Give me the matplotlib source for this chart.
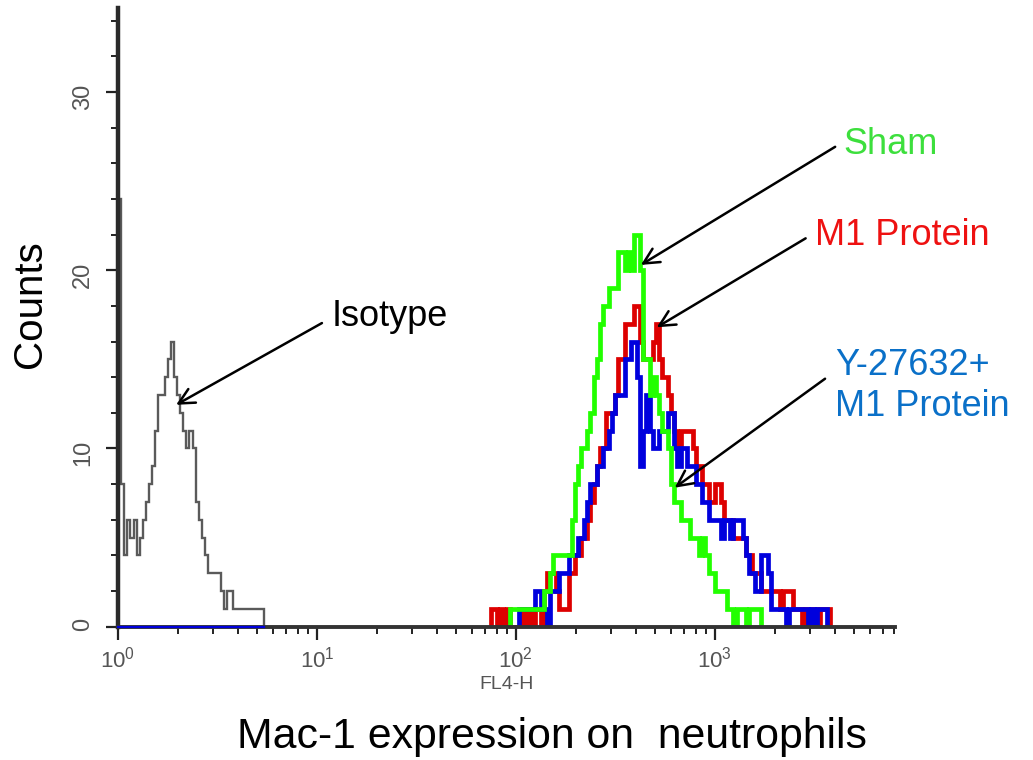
import numpy as np
import matplotlib
matplotlib.use('Agg')
import matplotlib.pyplot as plt
from matplotlib.ticker import MultipleLocator

plt.rcParams['font.family'] = ['Liberation Sans', 'DejaVu Sans']

# FL4-H histograms: 256 log channels over four decades, counts per channel
n_channels = 256
edges = 10 ** (np.arange(n_channels + 1) * 4 / n_channels)

iso_start = 0
iso_counts = [24, 8, 4, 6, 5, 6, 4, 5, 6, 7, 8, 9, 11, 13, 13, 14, 15, 16, 14, 13,
              12, 11, 10, 11, 10, 7, 6, 5, 4, 3, 3, 3, 3, 2, 1, 2, 2, 1, 1, 1,
              1, 1, 1, 1, 1, 1, 1]

sham_start = 126
sham_counts = [1, 1, 1, 1, 1, 1, 1, 1, 1, 1, 1, 2, 2, 3, 4, 4, 4, 4, 4, 4,
               6, 8, 9, 10, 10, 11, 12, 14, 15, 17, 18, 18, 19, 19, 19, 21, 21, 20, 21, 20,
               22, 22, 20, 15, 15, 13, 14, 13, 12, 11, 11, 10, 8, 7, 7, 6, 6, 6, 5, 5,
               5, 4, 5, 4, 3, 3, 2, 2, 2, 2, 1, 1, 0, 1, 1, 1, 0, 1, 1, 1, 1]

m1_start = 120
m1_counts = [1, 1, 0, 1, 0, 1, 0, 0, 0, 0, 1, 0, 1, 0, 1, 1, 0, 2, 3, 3,
             3, 2, 1, 1, 1, 3, 3, 4, 4, 5, 5, 6, 7, 8, 9, 10, 10, 12, 12, 12,
             13, 15, 15, 17, 17, 17, 18, 18, 16, 15, 15, 15, 16, 17, 15, 14, 14, 13, 12, 11,
             10, 11, 11, 11, 11, 10, 9, 9, 8, 8, 7, 7, 8, 8, 7, 6, 6, 6, 5, 5,
             5, 5, 4, 4, 3, 3, 3, 2, 2, 2, 2, 2, 2, 1, 2, 2, 2, 1, 1, 1,
             0, 1, 1, 1, 1, 0, 1, 1, 1]

y27_start = 129
y27_counts = [1, 1, 1, 1, 1, 2, 2, 1, 1, 0, 2, 2, 2, 3, 3, 3, 4, 4, 4, 5,
              5, 6, 7, 8, 8, 9, 9, 10, 10, 11, 12, 13, 13, 13, 15, 15, 16, 16, 14, 9,
              11, 13, 11, 10, 10, 11, 11, 11, 12, 12, 10, 9, 10, 10, 9, 9, 9, 8, 8, 7,
              7, 6, 6, 6, 6, 5, 6, 6, 5, 6, 6, 6, 5, 4, 3, 3, 2, 2, 4, 4,
              3, 1, 1, 1, 1, 1, 0, 1, 1, 1, 1, 1, 1, 0, 1, 0, 1, 1, 1]

c_iso = '#5a5a5a'
c_sham = '#22ff00'
c_m1 = '#dd0000'
c_y27 = '#0000dd'


def draw_hist(ax, start, counts, **kw):
    e = edges[start:start + len(counts) + 1]
    ax.stairs(counts, e, baseline=0, **kw)


fig = plt.figure(figsize=(10.33, 7.6), dpi=100)
ax = fig.add_axes([0.1142, 0.1754, 0.7522, 0.8137])

draw_hist(ax, iso_start, iso_counts, color=c_iso, lw=1.7, zorder=2)
ax.plot([edges[iso_start], edges[iso_start + len(iso_counts)]], [0, 0],
        color=c_y27, lw=1.6, zorder=5, clip_on=False)
draw_hist(ax, m1_start, m1_counts, color=c_m1, lw=3.4, zorder=2.1)
draw_hist(ax, y27_start, y27_counts, color=c_y27, lw=3.4, zorder=2.2)
draw_hist(ax, sham_start, sham_counts, color=c_sham, lw=3.4, zorder=2.3)

ax.set_xscale('log')
ax.set_xlim(1, 8050)
ax.set_ylim(0, 34.7)
ax.set_yticks([0, 10, 20, 30])
ax.yaxis.set_minor_locator(MultipleLocator(2))

for s in ['top', 'right']:
    ax.spines[s].set_visible(False)
ax.spines['left'].set_linewidth(3.2)
ax.spines['left'].set_color('#2a2a2a')
ax.spines['bottom'].set_linewidth(2.8)
ax.spines['bottom'].set_color('#333333')
ax.spines['left'].set_zorder(4)
ax.spines['bottom'].set_zorder(4)

ax.tick_params(axis='both', which='major', direction='out', length=9, width=1.6, color='#222222')
ax.tick_params(axis='both', which='minor', direction='out', length=5, width=1.4, color='#222222')
ax.tick_params(axis='y', which='major', labelsize=17, labelcolor='#555555', labelrotation=90, pad=8)
ax.tick_params(axis='x', which='major', labelsize=16, labelcolor='#555555', pad=5)

ax.set_xlabel('FL4-H', fontsize=14, color='#555555', labelpad=3)
ax.text(-0.113, 0.522, 'Counts', transform=ax.transAxes, rotation=90,
        ha='center', va='center', fontsize=29)
fig.text(0.534, 0.0303, 'Mac-1 expression on  neutrophils',
         ha='center', va='center', fontsize=30.8)

arrow_kw = dict(arrowstyle='->', color='black', lw=1.8, shrinkA=0, shrinkB=0,
                mutation_scale=28)

# labels with arrows pointing at each histogram
ax.annotate('', xy=(425, 20.3), xycoords='data', xytext=(0.923, 0.776),
            textcoords='axes fraction', arrowprops=arrow_kw)
ax.text(0.933, 0.779, 'Sham', transform=ax.transAxes, color='#3ddf3d',
        fontsize=26, ha='left', va='center')

ax.annotate('', xy=(511, 16.8), xycoords='data', xytext=(0.885, 0.628),
            textcoords='axes fraction', arrowprops=arrow_kw)
ax.text(0.897, 0.633, 'M1 Protein', transform=ax.transAxes, color='#ee1111',
        fontsize=26, ha='left', va='center')

ax.annotate('', xy=(629, 7.8), xycoords='data', xytext=(0.910, 0.401),
            textcoords='axes fraction', arrowprops=arrow_kw)
ax.text(0.923, 0.389, 'Y-27632+\nM1 Protein', transform=ax.transAxes, color='#0a70c8',
        fontsize=26, ha='left', va='center', linespacing=1.2)

ax.annotate('', xy=(1.96, 12.45), xycoords='data', xytext=(0.2625, 0.491),
            textcoords='axes fraction', arrowprops=arrow_kw)
ax.text(0.2754, 0.502, 'Isotype', transform=ax.transAxes, color='black',
        fontsize=26, ha='left', va='center')

fig.savefig('out.png', dpi=100)
